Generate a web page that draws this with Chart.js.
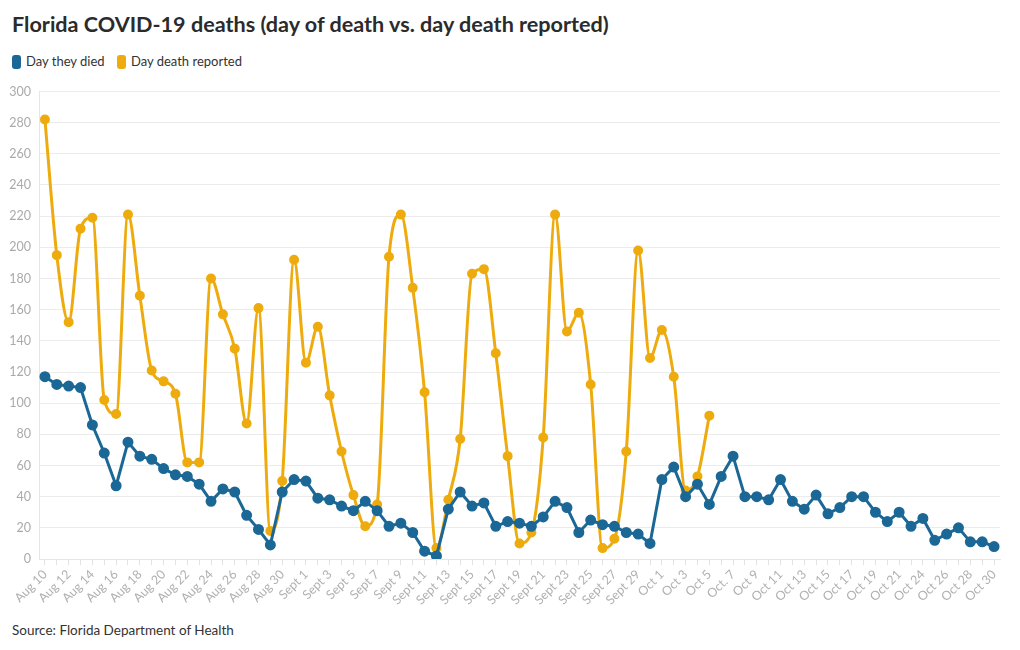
<!DOCTYPE html>
<html>
<head>
<meta charset="utf-8">
<title>Florida COVID-19 deaths</title>
<script src="https://cdn.jsdelivr.net/npm/chart.js@4.4.0/dist/chart.umd.min.js"></script>
<style>
  body { margin: 0; background: #fff; font-family: Lato, sans-serif; color: #333; }
  #title { position: absolute; left: 12px; top: 9px; font-size: 21.6px; font-weight: bold; line-height: 30px; color: #2b2b2b; }
  #legend { position: absolute; left: 12px; top: 52px; font-size: 13px; line-height: 18px; }
  #legend span { display: inline-block; margin-right: 9px; }
  #legend i { display: inline-block; width: 9px; height: 14px; border-radius: 3px; vertical-align: -3px; margin-right: 5px; }
  #wrap { position: absolute; left: 0; top: 76px; width: 1020px; height: 539px; }
  #source { position: absolute; left: 12px; top: 622px; font-size: 13.5px; color: #333; }
</style>
</head>
<body>
<div id="title">Florida COVID-19 deaths (day of death vs. day death reported)</div>
<div id="legend">
  <span><i style="background:#1b6795"></i>Day they died</span>
  <span><i style="background:#eeab0e"></i>Day death reported</span>
</div>
<div id="wrap"><canvas id="chart"></canvas></div>
<div id="source">Source: Florida Department of Health</div>

<script>
  var dates = [
    'Aug 10', 'Aug 11', 'Aug 12', 'Aug 13', 'Aug 14', 'Aug 15', 'Aug 16', 'Aug 17', 'Aug 18', 'Aug 19',
    'Aug 20', 'Aug 21', 'Aug 22', 'Aug 23', 'Aug 24', 'Aug 25', 'Aug 26', 'Aug 27', 'Aug 28', 'Aug 29',
    'Aug 30', 'Aug 31',
    'Sept 1', 'Sept 2', 'Sept 3', 'Sept 4', 'Sept 5', 'Sept 6', 'Sept 7', 'Sept 8', 'Sept 9', 'Sept 10',
    'Sept 11', 'Sept 12', 'Sept 13', 'Sept 14', 'Sept 15', 'Sept 16', 'Sept 17', 'Sept 18', 'Sept 19', 'Sept 20',
    'Sept 21', 'Sept 22', 'Sept 23', 'Sept 24', 'Sept 25', 'Sept 26', 'Sept 27', 'Sept 28', 'Sept 29', 'Sept 30',
    'Oct 1', 'Oct 2', 'Oct 3', 'Oct 4', 'Oct 5', 'Oct 6', 'Oct. 7', 'Oct 8', 'Oct 9', 'Oct 10',
    'Oct 11', 'Oct 12', 'Oct 13', 'Oct 14', 'Oct 15', 'Oct 16', 'Oct 17', 'Oct 18', 'Oct 19', 'Oct 20',
    'Oct 21', 'Oct 23', 'Oct 24', 'Oct 25', 'Oct 26', 'Oct 27', 'Oct 28', 'Oct 29', 'Oct 30'
  ];

  // deaths by the day the person died
  var dayDied = [
    117, 112, 111, 110, 86, 68, 47, 75, 66, 64,
    58, 54, 53, 48, 37, 45, 43, 28, 19, 9,
    43, 51,
    50, 39, 38, 34, 31, 37, 31, 21, 23, 17,
    5, 2, 32, 43, 34, 36, 21, 24, 23, 21,
    27, 37, 33, 17, 25, 22, 21, 17, 16, 10,
    51, 59, 40, 48, 35, 53, 66, 40, 40, 38,
    51, 37, 32, 41, 29, 33, 40, 40, 30, 24,
    30, 21, 26, 12, 16, 20, 11, 11, 8
  ];

  // deaths by the day they were reported (stops at Oct 5)
  var dayReported = [
    282, 195, 152, 212, 219, 102, 93, 221, 169, 121,
    114, 106, 62, 62, 180, 157, 135, 87, 161, 18,
    50, 192,
    126, 149, 105, 69, 41, 21, 35, 194, 221, 174,
    107, 7, 38, 77, 183, 186, 132, 66, 10, 17,
    78, 221, 146, 158, 112, 7, 13, 69, 198, 129,
    147, 117, 44, 53, 92
  ];

  var font = { family: 'Lato', size: 12.5 };

  new Chart(document.getElementById('chart'), {
    type: 'line',
    data: {
      labels: dates,
      datasets: [
        {
          label: 'Day death reported',
          data: dayReported,
          borderColor: '#eeab0e',
          backgroundColor: '#eeab0e',
          borderWidth: 3,
          pointRadius: 3.5,
          cubicInterpolationMode: 'monotone',
          order: 2
        },
        {
          label: 'Day they died',
          data: dayDied,
          borderColor: '#1b6795',
          backgroundColor: '#1b6795',
          borderWidth: 3,
          pointRadius: 4,
          tension: 0,
          order: 1
        }
      ]
    },
    options: {
      responsive: true,
      maintainAspectRatio: false,
      animation: false,
      layout: { padding: { top: 7, right: 20, left: 0, bottom: 0 } },
      plugins: {
        legend: { display: false },
        tooltip: { enabled: false }
      },
      scales: {
        x: {
          offset: true,
          grid: { drawOnChartArea: false, offset: false, color: '#e3e3e3', tickLength: 6 },
          border: { color: '#e6e6e6' },
          ticks: {
            autoSkip: false,
            maxRotation: 45,
            minRotation: 45,
            color: '#b0b0b0',
            font: font,
            padding: 2,
            callback: function(v, i) { return i % 2 === 0 ? dates[i] : ''; }
          },
          afterFit: function(s) { s.height = 56; }
        },
        y: {
          min: 0,
          max: 300,
          ticks: { stepSize: 20, color: '#aaaaaa', font: font, padding: 8 },
          grid: { color: '#ececec', drawTicks: false },
          border: { color: '#e6e6e6' },
          afterFit: function(s) { s.width = 39; }
        }
      }
    }
  });
</script>
</body>
</html>
